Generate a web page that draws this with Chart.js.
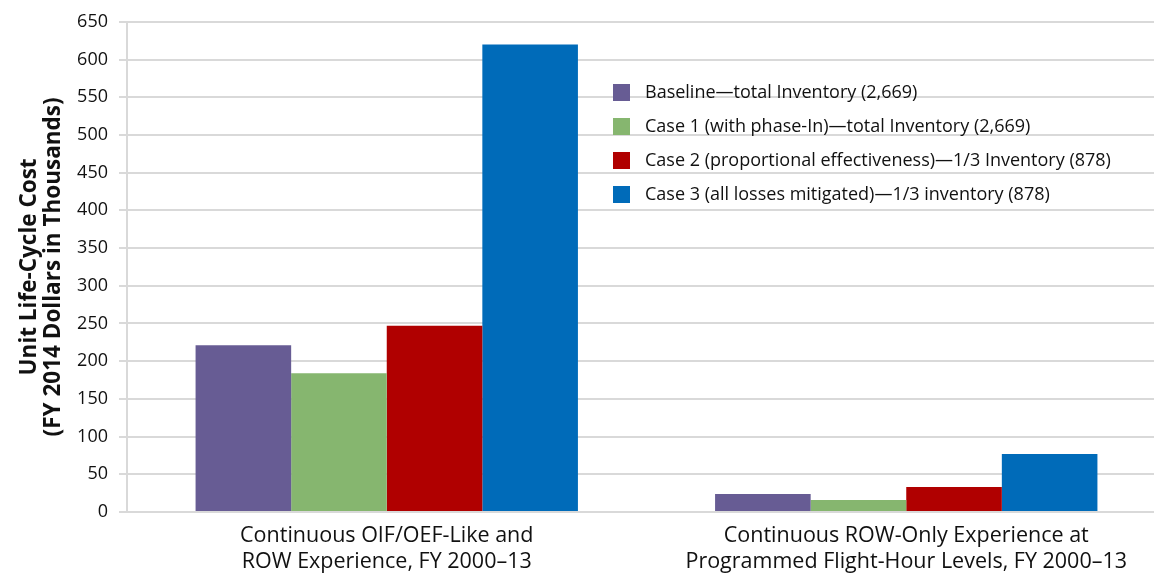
<!DOCTYPE html>
<html><head><meta charset="utf-8">
<script src="https://cdn.jsdelivr.net/npm/chart.js@4.4.1/dist/chart.umd.min.js"></script>
<style>html,body{margin:0;padding:0;background:#fff;overflow:hidden;width:1154px;height:573px}
#wrap{position:absolute;left:0;top:0;width:1166px;height:573px}</style>
</head><body><div id="wrap"><canvas id="c" width="1166" height="573"></canvas></div>
<script>
const categories = [["Continuous OIF/OEF-Like and","ROW Experience, FY 2000–13"],["Continuous ROW-Only Experience at","Programmed Flight-Hour Levels, FY 2000–13"]];
const seriesNames = ["Baseline—total Inventory (2,669)","Case 1 (with phase-In)—total Inventory (2,669)","Case 2 (proportional effectiveness)—1/3 Inventory (878)","Case 3 (all losses mitigated)—1/3 inventory (878)"];
const baseline = [221, 24];
const case1 = [184, 16];
const case2 = [247, 33];
const case3 = [620, 77];
const colors = ["#675c94","#86b66f","#b00000","#006bb9"];
const FONT = "'Open Sans', sans-serif";
const TXT = '#111111';

const legendPlugin = {
  id:'inLegend',
  afterDraw(chart){
    const ctx = chart.ctx;
    ctx.save();
    ctx.font = "18px " + FONT;
    ctx.textBaseline = 'middle';
    chart.data.datasets.forEach((ds,i)=>{
      const y = 92 + i*34;
      ctx.fillStyle = ds.backgroundColor;
      ctx.fillRect(613, y-8, 17, 17);
      ctx.fillStyle = TXT;
      ctx.fillText(ds.label, 645, y+1);
    });
    ctx.restore();
  }
};

const data = {
  labels: categories,
  datasets: [baseline, case1, case2, case3].map((d,i)=>({
    label: seriesNames[i], data: d, backgroundColor: colors[i], borderWidth:0,
    categoryPercentage:0.736, barPercentage:1
  }))
};
new Chart(document.getElementById('c'), {
  type:'bar', data,
  plugins:[legendPlugin],
  options:{
    responsive:false, animation:false,
    layout:{padding:{top:21,right:0,bottom:0,left:0}},
    plugins:{legend:{display:false}, tooltip:{enabled:false}},
    scales:{
      x:{
        grid:{display:false}, border:{display:false},
        ticks:{color:TXT, font:{family:FONT,size:21.5,lineHeight:1.22}, padding:3, maxRotation:0},
        afterFit(s){ s.height = 61; }
      },
      y:{
        min:0, max:650,
        ticks:{stepSize:50, color:TXT, font:{family:FONT,size:18}, padding:11},
        grid:{color:'#d9d9d9', lineWidth:2, tickLength:8, drawTicks:true},
        border:{display:true, color:'#d9d9d9', width:2},
        title:{display:true, text:["Unit Life-Cycle Cost","(FY 2014 Dollars in Thousands)"], color:TXT, font:{family:FONT,size:22.5,weight:'bold',lineHeight:1.08}, padding:{top:17,bottom:0}},
        afterFit(s){ s.width = 127; }
      }
    }
  }
});
</script></body></html>
